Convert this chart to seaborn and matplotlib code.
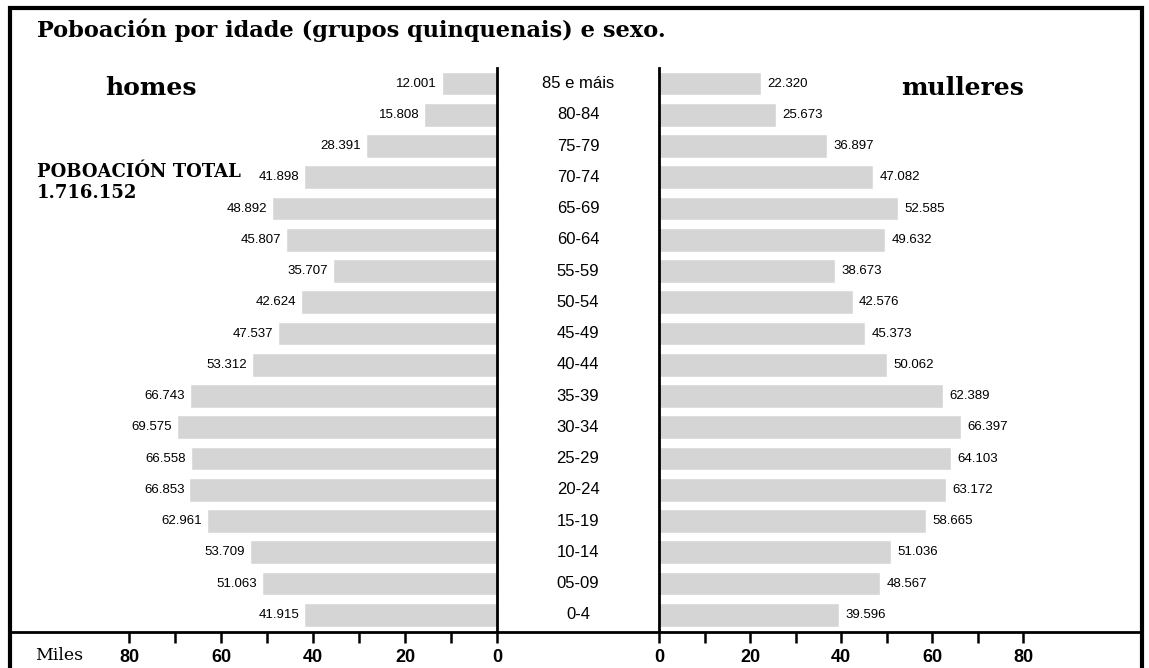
import numpy as np
import pandas as pd
import matplotlib
matplotlib.use("Agg")
import matplotlib.pyplot as plt
import seaborn as sns
from matplotlib.patches import Rectangle
from matplotlib.lines import Line2D

# data (persoas)
idades = ["85 e máis", "80-84", "75-79", "70-74", "65-69", "60-64", "55-59",
          "50-54", "45-49", "40-44", "35-39", "30-34", "25-29", "20-24",
          "15-19", "10-14", "05-09", "0-4"]
homes = [12001, 15808, 28391, 41898, 48892, 45807, 35707, 42624, 47537,
         53312, 66743, 69575, 66558, 66853, 62961, 53709, 51063, 41915]
mulleres = [22320, 25673, 36897, 47082, 52585, 49632, 38673, 42576, 45373,
            50062, 62389, 66397, 64103, 63172, 58665, 51036, 48567, 39596]
ticks_maior = [0, 20, 40, 60, 80]
ticks_menor = [10, 30, 50, 70]

df = pd.DataFrame({"idade": idades,
                   "homes": np.array(homes) / 1000,
                   "mulleres": np.array(mulleres) / 1000})

sns.set_style("white")
plt.rcParams["font.family"] = ["DejaVu Sans"]
plt.rcParams["text.color"] = "black"
cond = ["Liberation Sans", "DejaVu Sans"]
slab = ["DejaVu Serif"]

W, H = 1149, 668
fig = plt.figure(figsize=(W / 100, H / 100), dpi=100)

def fx(px):
    return px / W

def fy(py):
    return 1 - py / H

ax_top, ax_bot = 68, 632
axL = fig.add_axes([fx(10), fy(ax_bot), fx(497 - 10), fy(ax_top) - fy(ax_bot)])
axR = fig.add_axes([fx(659), fy(ax_bot), fx(1142 - 659), fy(ax_top) - fy(ax_bot)])

gris = "#d5d5d5"
sns.barplot(data=df, x="homes", y="idade", orient="h", color=gris,
            width=0.76, ax=axL, saturation=1)
sns.barplot(data=df, x="mulleres", y="idade", orient="h", color=gris,
            width=0.76, ax=axR, saturation=1)

axL.set_xlim((497 - 10) / 4.6, 0)
axR.set_xlim(0, (1142 - 659) / 4.55)
for ax in (axL, axR):
    ax.set_ylim(17.55, -0.5)
    ax.set_ylabel("")
    ax.set_xlabel("")
    ax.set_yticks([])
    ax.set_xticks(ticks_maior)
    ax.set_xticks(ticks_menor, minor=True)
    ax.tick_params(axis="x", which="both", direction="out", length=8,
                   width=1.8, color="black", bottom=True, pad=4,
                   labelcolor="black")
    for lab in ax.get_xticklabels():
        lab.set_fontfamily(["Liberation Sans", "DejaVu Sans"])
        lab.set_fontweight("bold")
        lab.set_fontsize(13)
    for s in ax.spines.values():
        s.set_visible(False)
    ax.patch.set_alpha(0)

axL.spines["right"].set_visible(True)
axL.spines["right"].set_linewidth(2)
axL.spines["right"].set_color("black")
axR.spines["left"].set_visible(True)
axR.spines["left"].set_linewidth(2)
axR.spines["left"].set_color("black")

# etiquetas de valores
fmt = lambda v: f"{v:,}".replace(",", ".")
for i, v in enumerate(homes):
    axL.text(v / 1000 + 1.1, i, fmt(v), ha="right", va="center",
             fontsize=9.5, family=cond)
for i, v in enumerate(mulleres):
    axR.text(v / 1000 + 1.4, i, fmt(v), ha="left", va="center",
             fontsize=9.5, family=cond)

# idades no medio
for i, lab in enumerate(idades):
    y = fy(ax_top) - (i + 0.5) / 18.05 * (fy(ax_top) - fy(ax_bot))
    fig.text(fx(578), y, lab, ha="center", va="center", fontsize=12,
             family=cond)

# liña base e marco
fig.add_artist(Line2D([fx(10), fx(1142)], [fy(ax_bot), fy(ax_bot)],
                      color="black", lw=2))
fig.add_artist(Rectangle((fx(10), fy(H + 5)), fx(1142 - 10), fy(8) - fy(H + 5),
                         fill=False, ec="black", lw=3))

fig.text(fx(37), fy(30), "Poboación por idade (grupos quinquenais) e sexo.",
         ha="left", va="center", fontsize=16.2, fontweight="bold", family=slab)
fig.text(fx(151), fy(88), "homes", ha="center", va="center", fontsize=18,
         fontweight="bold", family=slab)
fig.text(fx(963), fy(88), "mulleres", ha="center", va="center", fontsize=18,
         fontweight="bold", family=slab)
fig.text(fx(37), fy(172), "POBOACIÓN TOTAL", ha="left", va="center",
         fontsize=13, fontweight="bold", family=slab)
fig.text(fx(37), fy(193), "1.716.152", ha="left", va="center",
         fontsize=13, fontweight="bold", family=slab)
fig.text(fx(35), fy(656), "Miles", ha="left", va="center", fontsize=12.5,
         family=slab)

fig.savefig("out.png", dpi=100)
